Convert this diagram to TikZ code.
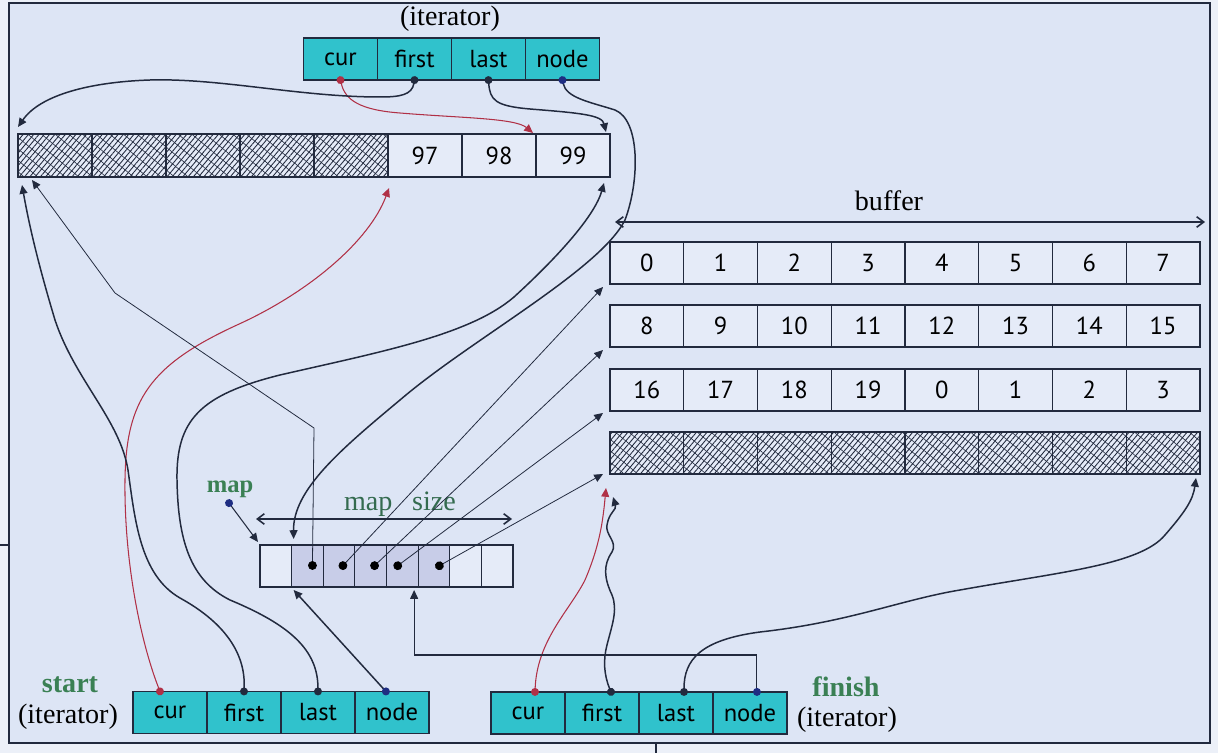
\documentclass[tikz,border=0pt]{standalone}
\usepackage{fontspec}
\setmainfont{Liberation Serif}
\newfontfamily\cellfont{PT Sans}
\usetikzlibrary{arrows.meta,positioning,patterns.meta}

\definecolor{pagebg}{RGB}{236,240,248}
\definecolor{slidebg}{RGB}{221,229,245}
\definecolor{cellbg}{RGB}{229,235,248}
\definecolor{itercyan}{RGB}{48,194,204}
\definecolor{mapshade}{RGB}{200,205,232}
\definecolor{inkc}{RGB}{34,42,62}
\definecolor{ptrred}{RGB}{176,48,70}
\definecolor{dotblue}{RGB}{30,45,130}
\definecolor{labgreen}{RGB}{58,128,84}

\begin{document}
\begin{tikzpicture}[
x=0.02cm, y=-0.02cm,
lab/.style={font=\fontsize{16}{19}\selectfont, inner sep=1pt},
tag/.style={lab, text=labgreen, font=\bfseries\fontsize{16}{19}\selectfont},
cell/.style={draw=inkc, fill=cellbg, line width=0.7pt, minimum width=1.475cm, minimum height=0.84cm, inner sep=0pt, outer sep=0pt, font=\cellfont\fontsize{14}{16}\selectfont},
hatched/.style={cell, postaction={pattern={Lines[angle=50,distance=2.3pt,line width=0.5pt]}, pattern color=inkc}, postaction={pattern={Lines[angle=-40,distance=5pt,line width=0.35pt]}, pattern color=inkc}},
field/.style={cell, fill=itercyan, minimum width=1.48cm},
mcell/.style={cell, minimum width=0.6325cm},
ptr/.style={draw=inkc, line width=0.85pt, shorten <=-2.2pt, {Circle[length=4.5pt]}-{Triangle[length=5pt,width=4.5pt]}},
redptr/.style={ptr, draw=ptrred, line width=0.6pt},
blueptr/.style={ptr, {Circle[length=4.5pt,color=dotblue]}-{Triangle[length=5pt,width=4.5pt]}},
thinptr/.style={ptr, line width=0.45pt, {Circle[length=5pt,color=black]}-{Triangle[length=5pt,width=4.5pt]}},
span/.style={draw=inkc, line width=0.9pt, {Straight Barb[length=4pt,width=6pt]}-{Straight Barb[length=4pt,width=6pt]}}
]

\useasboundingbox (0,0) rectangle (1218,753);
\fill[pagebg] (0,0) rectangle (1218,753);
\draw[inkc, line width=0.8pt, fill=slidebg] (9,3) rectangle (1210,743);
\draw[inkc, line width=0.8pt] (0,545) -- (9,545);
\draw[inkc, line width=0.8pt] (656,743) -- (656,753);

% top iterator
\node[lab] (titer) at (450,19) {(iterator)};
\node[field] (tcur) at (340.5,59) {cur};
\node[field, right=0pt of tcur] (tfirst) {first};
\node[field, right=0pt of tfirst] (tlast) {last};
\node[field, right=0pt of tlast] (tnode) {node};

% node buffer pointed to by the top iterator
\foreach \i in {1,...,5}
  \node[hatched, minimum width=1.48cm, minimum height=0.86cm] (tb\i) at ({18+74*(\i-0.5)},155.5) {};
\foreach \v [count=\i from 6] in {97,98,99}
  \node[cell, minimum width=1.48cm, minimum height=0.86cm] (tb\i) at ({18+74*(\i-0.5)},155.5) {\v};

% buffer rows
\node[lab] (bufname) at (889,201) {buffer};
\coordinate (bufL) at (615,222);
\coordinate (bufR) at (1205,222);
\draw[span] (bufL) -- (bufR);
\foreach \v [count=\i] in {0,...,7}
  \node[cell] (ra\i) at ({610+73.75*(\i-0.5)},263) {\v};
\foreach \v [count=\i] in {8,...,15}
  \node[cell] (rb\i) at ({610+73.75*(\i-0.5)},326) {\v};
\foreach \v [count=\i] in {16,17,18,19,0,1,2,3}
  \node[cell] (rc\i) at ({610+73.75*(\i-0.5)},390) {\v};
\foreach \i in {1,...,8}
  \node[hatched] (rd\i) at ({610+73.75*(\i-0.5)},453) {};

% map
\node[tag, font=\bfseries\fontsize{14}{16}\selectfont] (mapname) at (230,489) {map};
\coordinate (mapdot) at (229,503);
\node[lab, text=labgreen!75!inkc] (msize) at (400,504) {map\hspace{0.7em}size};
\coordinate (msL) at (256,519);
\coordinate (msR) at (512,519);
\draw[span] (msL) -- (msR);
\foreach \i in {1,7,8}
  \node[mcell] (m\i) at ({260+31.625*(\i-0.5)},566) {};
\foreach \i in {2,...,6}
  \node[mcell, fill=mapshade] (m\i) at ({260+31.625*(\i-0.5)},566) {};
\coordinate (d2) at ([shift={(5,0)}]m2.center);
\coordinate (d3) at ([shift={(3.5,0)}]m3.center);
\coordinate (d4) at ([shift={(3.5,0)}]m4.center);
\coordinate (d5) at ([shift={(-5,0)}]m5.center);
\coordinate (d6) at ([shift={(5,0)}]m6.center);

% start and finish
\node[tag] (sname) at (70,685) {start};
\node[lab] (siter) at (68,717) {(iterator)};
\node[field] (scur) at (170,712.5) {cur};
\node[field, right=0pt of scur] (sfirst) {first};
\node[field, right=0pt of sfirst] (slast) {last};
\node[field, right=0pt of slast] (snode) {node};

\node[tag] (fname) at (846,687) {finish};
\node[lab] (fiter) at (847,720) {(iterator)};
\node[field] (fcur) at (528,713) {cur};
\node[field, right=0pt of fcur] (ffirst) {first};
\node[field, right=0pt of ffirst] (flast) {last};
\node[field, right=0pt of flast] (fnode) {node};

% top iterator pointers
\draw[redptr] (tcur.south) .. controls (345,100) and (360,110) .. (400,113) .. controls (460,118) and (515,118) .. ([shift={(-3,-1)}]tb7.north east);
\draw[ptr] (tfirst.south) .. controls (412,95) and (400,97) .. (380,97) .. controls (300,97) and (220,78) .. (150,80) .. controls (90,82) and (40,95) .. ([shift={(0,-7)}]tb1.north west);
\draw[ptr] (tlast.south) .. controls (490,100) and (495,106) .. (530,109) .. controls (580,113) and (602,115) .. ([shift={(-4,-2)}]tb8.north east);
\draw[blueptr] (tnode.south) .. controls (566,98) and (590,102) .. (615,110) .. controls (640,120) and (640,180) .. (625,220) .. controls (600,270) and (470,340) .. (400,400) .. controls (340,450) and (293,490) .. ([shift={(2,-6)}]m2.north west);

% start pointers
\draw[redptr] ([shift={(-10,0)}]scur.north) .. controls (140,640) and (124,560) .. (125,480) .. controls (126,400) and (150,365) .. (237,325) .. controls (310,292) and (370,240) .. ([shift={(1,11)}]tb5.south east);
\draw[ptr] (sfirst.north) .. controls (246,650) and (220,620) .. (180,598) .. controls (140,575) and (135,520) .. (128,470) .. controls (120,420) and (75,380) .. (55,320) .. controls (40,270) and (30,230) .. ([shift={(4,8)}]tb1.south west);
\draw[ptr] (slast.north) .. controls (318,650) and (290,625) .. (230,600) .. controls (190,580) and (178,540) .. (177,480) .. controls (176,420) and (200,395) .. (280,375) .. controls (380,352) and (470,335) .. (514,297) .. controls (560,255) and (595,215) .. ([shift={(-6,6)}]tb8.south east);
\draw[blueptr] ([shift={(-6,0)}]snode.north) -- ([shift={(2,3)}]m2.south west);

% finish pointers
\draw[redptr] ([shift={(7,0)}]fcur.north) .. controls (537,640) and (570,610) .. (585,580) .. controls (600,545) and (603,520) .. ([shift={(-4,14)}]rd1.south west);
\draw[ptr] ([shift={(9,0)}]ffirst.north) .. controls (604,675) and (603,660) .. (607,645) .. controls (612,625) and (618,610) .. (612,595) .. controls (604,578) and (603,565) .. (612,552) .. controls (618,542) and (605,535) .. (607,525) .. controls (609,512) and (617,510) .. ([shift={(3,23)}]rd1.south west);
\draw[ptr] ([shift={(8,0)}]flast.north) .. controls (684,660) and (700,640) .. (760,632) .. controls (850,622) and (900,600) .. (960,590) .. controls (1060,572) and (1140,565) .. (1165,535) .. controls (1185,512) and (1193,500) .. ([shift={(-4,4)}]rd8.south east);
\draw[blueptr, line width=0.6pt] ([shift={(7,0)}]fnode.north) -- ++(0,-37) -| ([shift={(-4,3)}]m5.south east);

% map pointers
\draw[blueptr, line width=0.6pt] (mapdot) -- ([shift={(-2,-3)}]m1.north west);
\draw[thinptr] (d2) -- (314,428) -- (115,293) -- ([shift={(14,3)}]tb1.south west);
\draw[thinptr] (d3) -- ([shift={(-7,3)}]ra1.south west);
\draw[thinptr] (d4) -- ([shift={(-7,3)}]rb1.south west);
\draw[thinptr] (d5) -- ([shift={(-7,2)}]rc1.south west);
\draw[thinptr] (d6) -- ([shift={(-7,0)}]rd1.south west);

\end{tikzpicture}
\end{document}
